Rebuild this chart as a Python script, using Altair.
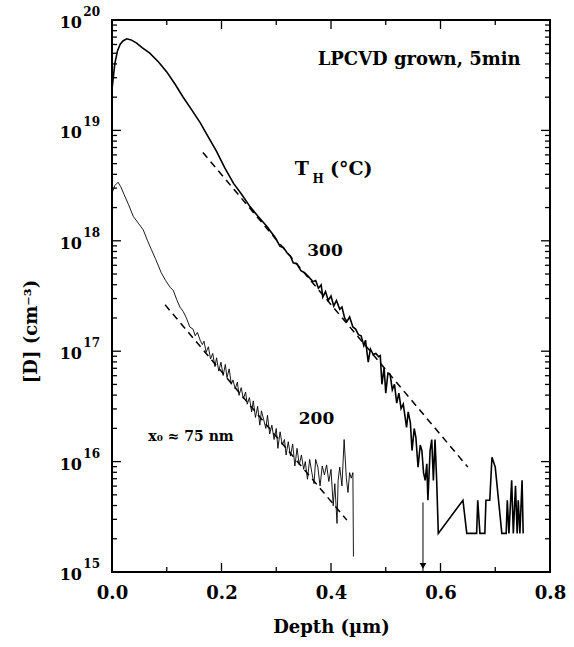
import altair as alt
import pandas as pd

# ---------------- data ----------------
# 300 C curve: depth (um) and log10 of [D] (cm^-3)
depth_300 = [0.000, 0.005, 0.010, 0.015, 0.020, 0.027, 0.035, 0.045, 0.055, 0.069,
             0.085, 0.100, 0.115, 0.130, 0.145, 0.161, 0.176, 0.191, 0.206, 0.222,
             0.237, 0.252, 0.267, 0.283, 0.298, 0.307, 0.313, 0.320, 0.326, 0.331,
             0.338, 0.345, 0.352, 0.358, 0.367, 0.372, 0.377, 0.382, 0.385, 0.390,
             0.395, 0.400, 0.405, 0.410, 0.416, 0.420, 0.425, 0.429, 0.434, 0.440,
             0.445, 0.450, 0.455, 0.460, 0.463, 0.468, 0.472, 0.477, 0.482, 0.487,
             0.490, 0.493, 0.497, 0.500, 0.504, 0.508, 0.512, 0.516, 0.520, 0.524,
             0.528, 0.532, 0.538, 0.541, 0.545, 0.548, 0.552, 0.555, 0.559, 0.563,
             0.566, 0.569, 0.572, 0.575, 0.577, 0.581, 0.584, 0.587, 0.590, 0.593,
             0.596, 0.641, 0.648, 0.666, 0.668, 0.672, 0.681, 0.683, 0.690, 0.694,
             0.700, 0.712, 0.720, 0.722, 0.725, 0.730, 0.733, 0.737, 0.740, 0.742,
             0.745, 0.749, 0.751]
logD_300 = [19.37, 19.60, 19.72, 19.78, 19.81, 19.83, 19.82, 19.79, 19.75, 19.70,
            19.62, 19.53, 19.42, 19.30, 19.19, 19.07, 18.94, 18.81, 18.66, 18.52,
            18.42, 18.31, 18.22, 18.13, 18.03, 17.95, 17.94, 17.89, 17.86, 17.80,
            17.79, 17.73, 17.71, 17.68, 17.63, 17.64, 17.57, 17.60, 17.49, 17.54,
            17.46, 17.50, 17.41, 17.46, 17.38, 17.40, 17.30, 17.27, 17.31, 17.22,
            17.20, 17.15, 17.14, 17.05, 17.10, 16.90, 17.02, 16.97, 16.98, 16.95,
            16.96, 16.70, 16.85, 16.62, 16.80, 16.79, 16.65, 16.70, 16.53, 16.62,
            16.48, 16.52, 16.31, 16.45, 16.35, 16.10, 16.30, 16.22, 15.95, 16.15,
            16.10, 15.90, 15.83, 15.98, 15.65, 16.10, 16.20, 15.83, 16.20, 15.83,
            15.35, 15.65, 15.35, 15.35, 15.65, 15.35, 15.35, 15.65, 15.65, 16.04,
            15.95, 15.35, 15.35, 15.65, 15.35, 15.83, 15.35, 15.78, 15.35, 15.65,
            15.35, 15.83, 15.35]

# 200 C curve
depth_200 = [0.000, 0.005, 0.011, 0.016, 0.022, 0.030, 0.039, 0.048, 0.057, 0.065,
             0.072, 0.080, 0.090, 0.098, 0.106, 0.112, 0.118, 0.124, 0.130, 0.136,
             0.142, 0.148, 0.152, 0.156, 0.161, 0.165, 0.168, 0.172, 0.176, 0.180,
             0.184, 0.188, 0.191, 0.195, 0.199, 0.203, 0.207, 0.210, 0.214, 0.218,
             0.221, 0.225, 0.229, 0.232, 0.236, 0.240, 0.244, 0.247, 0.251, 0.255,
             0.258, 0.262, 0.266, 0.270, 0.273, 0.277, 0.281, 0.284, 0.288, 0.292,
             0.296, 0.300, 0.303, 0.307, 0.311, 0.315, 0.318, 0.322, 0.326, 0.330,
             0.334, 0.338, 0.342, 0.346, 0.350, 0.353, 0.357, 0.361, 0.365, 0.369,
             0.372, 0.376, 0.380, 0.384, 0.388, 0.392, 0.396, 0.400, 0.404, 0.407,
             0.411, 0.413, 0.416, 0.420, 0.424, 0.428, 0.431, 0.434, 0.437, 0.440,
             0.441]
logD_200 = [18.43, 18.50, 18.53, 18.49, 18.42, 18.33, 18.22, 18.16, 18.10, 18.00,
            17.92, 17.83, 17.71, 17.64, 17.58, 17.55, 17.47, 17.40, 17.36, 17.30,
            17.22, 17.20, 17.14, 17.17, 17.10, 17.06, 17.09, 16.99, 17.04, 16.93,
            16.98, 16.86, 16.94, 16.82, 16.90, 16.78, 16.88, 16.76, 16.84, 16.70,
            16.74, 16.66, 16.72, 16.60, 16.67, 16.57, 16.63, 16.52, 16.58, 16.45,
            16.55, 16.40, 16.50, 16.33, 16.46, 16.38, 16.30, 16.42, 16.25, 16.33,
            16.20, 16.30, 16.12, 16.27, 16.15, 16.20, 16.06, 16.18, 16.05, 16.16,
            15.96, 16.12, 15.97, 16.06, 15.93, 16.00, 15.84, 16.02, 15.90, 15.80,
            16.02, 15.95, 15.78, 15.96, 15.88, 15.97, 15.82, 15.93, 15.60, 15.80,
            15.44, 15.83, 15.95, 15.78, 16.20, 15.85, 15.72, 15.90, 15.85, 15.90,
            15.14]

# dashed exponential fits (x0 ~ 75 nm): end points
fit_series = ["300", "300", "200", "200"]
fit_depth = [0.166, 0.650, 0.097, 0.429]
fit_logD = [18.80, 15.95, 17.42, 15.47]

# arrow marking the junction depth
arrow_depth = 0.568
arrow_logD_top = 15.63

x_ticks_major = [0.0, 0.2, 0.4, 0.6, 0.8]
x_ticks_minor = [0.1, 0.3, 0.5, 0.7]
y_decades = [15, 16, 17, 18, 19, 20]

# ---------------- build tables ----------------
df300 = pd.DataFrame({"x": depth_300, "y": [10 ** v for v in logD_300]})
df200 = pd.DataFrame({"x": depth_200, "y": [10 ** v for v in logD_200]})
dffit = pd.DataFrame({"s": fit_series, "x": fit_depth, "y": [10 ** v for v in fit_logD]})
dfarrow = pd.DataFrame({"x": [arrow_depth], "y": [10 ** arrow_logD_top], "y2": [1e15]})
dfhead = pd.DataFrame({"x": [arrow_depth], "y": [10 ** 15.055]})

ymaj = pd.DataFrame({"y": [10.0 ** d for d in y_decades]})
ymin = pd.DataFrame({"y": [k * 10.0 ** d for d in y_decades[:-1] for k in range(2, 10)]})
xmaj = pd.DataFrame({"x": x_ticks_major})
xmin = pd.DataFrame({"x": x_ticks_minor})
ylab = pd.DataFrame({"x": [0.0] * len(y_decades), "y": [10.0 ** d for d in y_decades],
                     "base": ["10"] * len(y_decades), "exp": [str(d) for d in y_decades]})

FONT = "DejaVu Serif"
W, H = 438, 552

xs = alt.Scale(domain=[0, 0.8], nice=False, zero=False)
ys = alt.Scale(type="log", domain=[1e15, 1e20], nice=False)

X = alt.X("x:Q", scale=xs, axis=alt.Axis(
    values=x_ticks_major, format=".1f", ticks=False, domain=False, grid=False,
    labelFont=FONT, labelFontWeight="bold", labelFontSize=18, labelColor="black",
    labelPadding=12, labelFlush=False,
    title="Depth (µm)", titleFont=FONT, titleFontWeight="bold", titleFontSize=18,
    titleColor="black", titlePadding=16))
Y = alt.Y("y:Q", scale=ys, axis=alt.Axis(
    labels=False, ticks=False, domain=False, grid=False,
    title="[D] (cm⁻³)", titleFont=FONT, titleFontWeight="bold", titleFontSize=18,
    titleColor="black", titlePadding=72, titleY=311))

line300 = alt.Chart(df300).mark_line(color="black", strokeWidth=1.6).encode(x=X, y=Y)
line200 = alt.Chart(df200).mark_line(color="black", strokeWidth=0.9).encode(x="x:Q", y="y:Q")
fits = alt.Chart(dffit).mark_line(color="black", strokeWidth=1.5, strokeDash=[7, 5]).encode(
    x="x:Q", y="y:Q", detail="s:N")
arrow = alt.Chart(dfarrow).mark_rule(color="black", strokeWidth=1).encode(
    x="x:Q", y="y:Q", y2="y2:Q")
head = alt.Chart(dfhead).mark_point(shape="triangle-down", filled=True, color="black",
                                    size=45, opacity=1).encode(x="x:Q", y="y:Q")

def yticks(df, length):
    left = alt.Chart(df).mark_rule(color="black", strokeWidth=1.3).encode(
        y="y:Q", x=alt.value(0), x2=alt.value(length))
    right = alt.Chart(df).mark_rule(color="black", strokeWidth=1.3).encode(
        y="y:Q", x=alt.value(W), x2=alt.value(W - length))
    return [left, right]

def xticks(df, length):
    bottom = alt.Chart(df).mark_rule(color="black", strokeWidth=1.3).encode(
        x="x:Q", y=alt.value(H), y2=alt.value(H - length))
    top = alt.Chart(df).mark_rule(color="black", strokeWidth=1.3).encode(
        x="x:Q", y=alt.value(0), y2=alt.value(length))
    return [bottom, top]

ticks = yticks(ymaj, 9) + yticks(ymin, 5) + xticks(xmaj, 9) + xticks(xmin, 5)

ylab_base = alt.Chart(ylab).mark_text(font=FONT, fontWeight="bold", fontSize=16, align="right",
                                      baseline="middle", dx=-30, dy=3, color="black").encode(
    x="x:Q", y="y:Q", text="base:N")
ylab_exp = alt.Chart(ylab).mark_text(font=FONT, fontWeight="bold", fontSize=12, align="right",
                                     baseline="middle", dx=-12, dy=-8, color="black").encode(
    x="x:Q", y="y:Q", text="exp:N")

def label(text, x, logy, size, align="center"):
    d = pd.DataFrame({"x": [x], "y": [10 ** logy], "t": [text]})
    return alt.Chart(d).mark_text(font=FONT, fontWeight="bold", fontSize=size, align=align,
                                  baseline="middle", color="black").encode(
        x="x:Q", y="y:Q", text="t:N")

texts = [
    label("LPCVD grown, 5min", 0.561, 19.64, 18),
    label("T", 0.334, 18.646, 19, "left"),
    label("H", 0.366, 18.56, 12, "left"),
    label("(°C)", 0.398, 18.646, 19, "left"),
    label("300", 0.389, 17.91, 17),
    label("200", 0.3735, 16.39, 17),
    label("x₀ ≈ 75 nm", 0.1443, 16.22, 14),
]

chart = alt.layer(line300, line200, fits, arrow, head, *ticks, ylab_base, ylab_exp, *texts).properties(
    width=W, height=H,
    padding={"left": 112, "top": 20, "right": 24, "bottom": 75},
    autosize=alt.AutoSizeParams(type="none"),
    background="white",
).configure_view(stroke="black", strokeWidth=2)

chart.save("out.html", embed_options={"renderer": "svg", "actions": False})
